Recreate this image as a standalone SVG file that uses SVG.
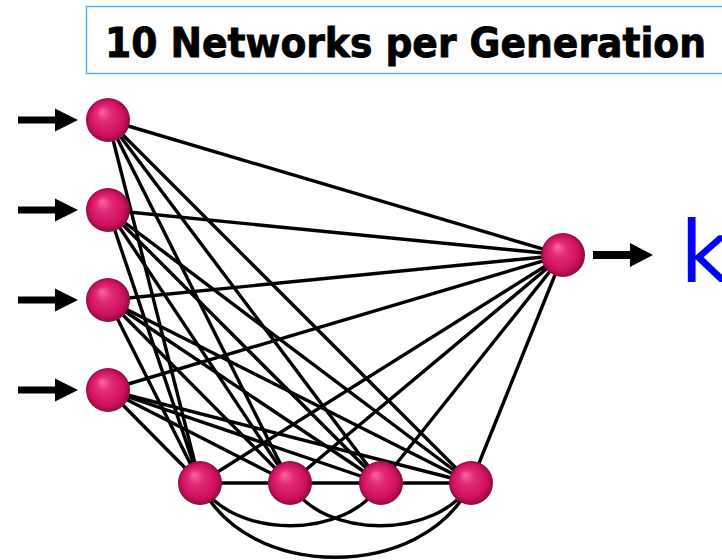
<svg xmlns="http://www.w3.org/2000/svg" width="722" height="560" viewBox="0 0 722 560">
  <style>
    .link { stroke: #000; stroke-width: 3.4; fill: none; }
    .node { fill: url(#ball); }
    .title { font-family: "DejaVu Sans", Verdana, sans-serif; font-weight: bold; font-size: 41px; fill: #000; stroke: #000; stroke-width: 0.9; }
    .out { font-family: "DejaVu Sans", Tahoma, sans-serif; font-size: 86px; fill: #0000ff; }
    .arrow { fill: #000; }
  </style>
  <defs>
    <radialGradient id="ball" cx="0.5" cy="0.5" r="0.5" fx="0.36" fy="0.3">
      <stop offset="0" stop-color="#f9679f"/>
      <stop offset="0.35" stop-color="#e22a78"/>
      <stop offset="0.8" stop-color="#cc0f5e"/>
      <stop offset="1" stop-color="#8e0a42"/>
    </radialGradient>
    <!-- thick block arrow pointing right, tip at origin -->
    <path id="inArrow" d="M-60,-3.5 H-23 V-11.5 L0,0 L-23,11.5 V3.5 H-60 Z"/>
  </defs>

  <!-- title banner -->
  <g id="title">
    <rect x="86.5" y="6.5" width="660" height="67" fill="#fff" stroke="#55b4f2" stroke-width="1.5"/>
    <text class="title" x="105" y="57" textLength="601" lengthAdjust="spacingAndGlyphs">10 Networks per Generation</text>
  </g>

  <!-- connectors -->
  <g id="connectors">
    <!-- inputs to output -->
    <line class="link" x1="108" y1="120" x2="563" y2="255"/>
    <line class="link" x1="108" y1="210" x2="563" y2="255"/>
    <line class="link" x1="108" y1="300" x2="563" y2="255"/>
    <line class="link" x1="108" y1="390" x2="563" y2="255"/>
    <!-- inputs to hidden layer -->
    <line class="link" x1="108" y1="120" x2="200" y2="483"/>
    <line class="link" x1="108" y1="120" x2="290" y2="483"/>
    <line class="link" x1="108" y1="120" x2="381" y2="483"/>
    <line class="link" x1="108" y1="120" x2="471" y2="483"/>
    <line class="link" x1="108" y1="210" x2="200" y2="483"/>
    <line class="link" x1="108" y1="210" x2="290" y2="483"/>
    <line class="link" x1="108" y1="210" x2="381" y2="483"/>
    <line class="link" x1="108" y1="210" x2="471" y2="483"/>
    <line class="link" x1="108" y1="300" x2="200" y2="483"/>
    <line class="link" x1="108" y1="300" x2="290" y2="483"/>
    <line class="link" x1="108" y1="300" x2="381" y2="483"/>
    <line class="link" x1="108" y1="300" x2="471" y2="483"/>
    <line class="link" x1="108" y1="390" x2="200" y2="483"/>
    <line class="link" x1="108" y1="390" x2="290" y2="483"/>
    <line class="link" x1="108" y1="390" x2="381" y2="483"/>
    <line class="link" x1="108" y1="390" x2="471" y2="483"/>
    <!-- hidden layer to output -->
    <line class="link" x1="200" y1="483" x2="563" y2="255"/>
    <line class="link" x1="290" y1="483" x2="563" y2="255"/>
    <line class="link" x1="381" y1="483" x2="563" y2="255"/>
    <line class="link" x1="471" y1="483" x2="563" y2="255"/>
    <!-- hidden layer lateral links -->
    <line class="link" x1="200" y1="483" x2="471" y2="483"/>
    <path class="link" d="M200,483 C232,540 348,540 381,483"/>
    <path class="link" d="M290,483 C322,540 438,540 471,483"/>
    <path class="link" d="M200,483 C245,582 425,582 471,483"/>
  </g>

  <!-- input arrows -->
  <g id="input-arrows">
    <use href="#inArrow" class="arrow" x="78" y="120"/>
    <use href="#inArrow" class="arrow" x="78" y="210"/>
    <use href="#inArrow" class="arrow" x="78" y="300"/>
    <use href="#inArrow" class="arrow" x="78" y="390"/>
  </g>

  <!-- input layer -->
  <g id="in1"><circle class="node" cx="108" cy="120" r="22"/></g>
  <g id="in2"><circle class="node" cx="108" cy="210" r="22"/></g>
  <g id="in3"><circle class="node" cx="108" cy="300" r="22"/></g>
  <g id="in4"><circle class="node" cx="108" cy="390" r="22"/></g>

  <!-- hidden layer -->
  <g id="h1"><circle class="node" cx="200" cy="483" r="22"/></g>
  <g id="h2"><circle class="node" cx="290" cy="483" r="22"/></g>
  <g id="h3"><circle class="node" cx="381" cy="483" r="22"/></g>
  <g id="h4"><circle class="node" cx="471" cy="483" r="22"/></g>

  <!-- output -->
  <g id="out">
    <circle class="node" cx="563" cy="255" r="22"/>
    <path class="arrow" d="M593,251 H630 V243 L653,255 L630,267 V259 H593 Z"/>
    <text class="out" x="680" y="282">k</text>
  </g>
</svg>
